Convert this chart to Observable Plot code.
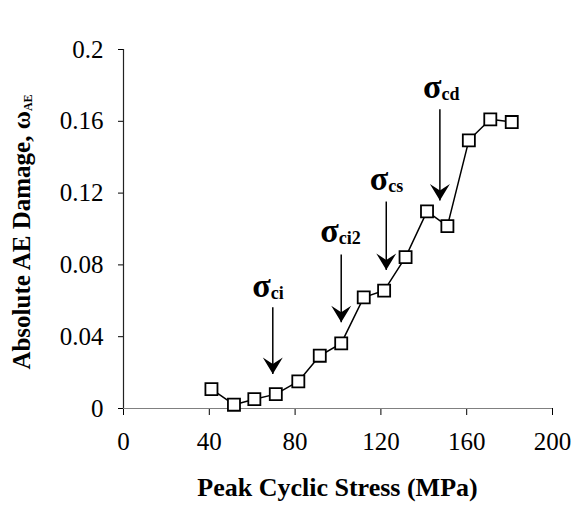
<!DOCTYPE html>
<html><head><meta charset="utf-8">
<script src="https://cdn.jsdelivr.net/npm/d3@7"></script>
<script src="https://cdn.jsdelivr.net/npm/@observablehq/plot@0.6"></script>
<style>body{margin:0;background:#fff}</style>
</head><body><div id="chart"></div>
<script>
// Data
const stress = [41, 51.5, 61, 71, 81.5, 91.5, 101.5, 112, 121.5, 131.5, 141.5, 151, 161, 171, 181];
const damage = [0.0108, 0.0021, 0.0052, 0.008, 0.0151, 0.0294, 0.0363, 0.0619, 0.0657, 0.0843, 0.1098, 0.1016, 0.1494, 0.1611, 0.1596];
const xTicks = [0, 40, 80, 120, 160, 200];
const yTicks = [0, 0.04, 0.08, 0.12, 0.16, 0.2];
const yTickLabels = ["0", "0.04", "0.08", "0.12", "0.16", "0.2"];
// Threshold annotations
const markerSymbol = ["σ", "σ", "σ", "σ"];
const markerSub = ["ci", "ci2", "cs", "cd"];
const arrowX = [69.6, 101.5, 122.5, 147.5];
const arrowFrom = [0.0564, 0.0858, 0.1153, 0.1667];
const arrowTo = [0.0192, 0.048, 0.0772, 0.1159];
const labelX = [68.6, 100.3, 123.4, 148.3];
const labelY = [0.067, 0.0977, 0.1265, 0.1777];

const points = stress.map((s, i) => ({s, d: damage[i]}));
const arrows = arrowX.map((x, i) => ({x, y1: arrowFrom[i], y2: arrowTo[i], lx: labelX[i], ly: labelY[i], sym: markerSymbol[i], sub: markerSub[i]}));

const arrowHead = {
  draw(ctx) {
    ctx.moveTo(0, 0);
    ctx.lineTo(-10, -16.5);
    ctx.lineTo(0, -10);
    ctx.lineTo(10, -16.5);
    ctx.closePath();
  }
};

const serif = "Liberation Serif, Times New Roman, serif";

const chart = Plot.plot({
  width: 572,
  height: 505,
  marginLeft: 123,
  marginRight: 20,
  marginTop: 49,
  marginBottom: 97,
  style: {fontFamily: serif, fontSize: "25px", color: "black", background: "white"},
  x: {domain: [0, 200]},
  y: {domain: [0, 0.2]},
  marks: [
    Plot.axisX({ticks: xTicks, tickSize: 7, tickPadding: 17, label: null, tickFormat: d => String(d)}),
    Plot.axisY({ticks: yTicks, tickSize: 5, tickPadding: 15, label: null, tickFormat: d => yTickLabels[yTicks.indexOf(d)]}),
    Plot.ruleY([0], {stroke: "#808080", strokeWidth: 1.2}),
    Plot.ruleX([0], {stroke: "#222", strokeWidth: 1.2}),
    Plot.line(points, {x: "s", y: "d", stroke: "black", strokeWidth: 1.5}),
    Plot.dot(points, {x: "s", y: "d", symbol: "square", r: 6.8, fill: "white", stroke: "black", strokeWidth: 1.8}),
    Plot.link(arrows, {x1: "x", x2: "x", y1: "y1", y2: "y2", stroke: "black", strokeWidth: 1.5}),
    Plot.dot(arrows, {x: "x", y: "y2", symbol: arrowHead, fill: "black", stroke: "none"}),
    Plot.text(arrows, {x: "lx", y: "ly", text: "sym", textAnchor: "end", fontSize: 34, fontWeight: "bold", dy: -2, fill: "black"}),
    Plot.text(arrows, {x: "lx", y: "ly", text: "sub", textAnchor: "start", fontSize: 18, fontWeight: "bold", dy: 5, fill: "black"})
  ]
});

const svg = d3.select(chart);
svg.append("text")
  .attr("x", 337.5).attr("y", 496)
  .attr("text-anchor", "middle")
  .attr("font-family", serif).attr("font-size", 26).attr("font-weight", "bold").attr("fill", "black")
  .text("Peak Cyclic Stress (MPa)");
const yl = svg.append("text")
  .attr("transform", "translate(30,232) rotate(-90)")
  .attr("text-anchor", "middle")
  .attr("font-family", serif).attr("font-size", 25).attr("font-weight", "bold").attr("fill", "black");
yl.append("tspan").text("Absolute AE Damage, ω");
yl.append("tspan").attr("font-size", 12).attr("dy", 2).text("AE");

document.getElementById("chart").appendChild(chart);
</script>
</body></html>
